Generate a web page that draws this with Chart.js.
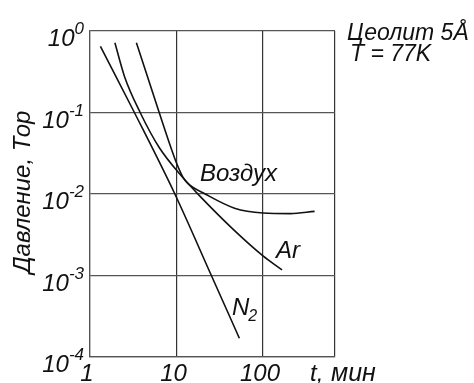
<!DOCTYPE html>
<html lang="ru">
<head>
<meta charset="utf-8">
<title>Цеолит 5Å, T = 77K</title>
<script src="https://cdn.jsdelivr.net/npm/chart.js@4.4.1/dist/chart.umd.min.js"></script>
<style>
  html, body { margin: 0; padding: 0; background: #fff; }
  canvas { display: block; }
</style>
</head>
<body>
<canvas id="chart" width="474" height="383"></canvas>
<script>
"use strict";

// time, min (log axis)
const xTicks = [1, 10, 100];
const xMax = 680;
// pressure, Torr (log axis)
const yTicks = [1, 0.1, 0.01, 0.001, 0.0001];

const n2Time = [1.32, 3.26, 9.57, 25.3, 53.3];
const n2Pressure = [0.648, 0.1, 0.01, 0.001, 0.00017];

const arTime = [1.94, 2.51, 3.8, 6.31, 11.9, 18.4, 46.9, 100, 166];
const arPressure = [0.716, 0.275, 0.1, 0.0372, 0.0158, 0.00955, 0.00355, 0.00174, 0.00117];

const airTime = [3.44, 6.31, 8.81, 10, 11.9, 13.5, 21.5, 46.9, 100, 207, 395];
const airPressure = [0.716, 0.1, 0.0347, 0.024, 0.016, 0.0135, 0.01, 0.0067, 0.00585, 0.00575, 0.00612];

// curve labels, anchored in data coordinates (left / baseline)
const curveLabels = [
  { text: "Воздух", t: 18.7, p: 0.01445 },
  { text: "Ar", t: 141, p: 0.00164 },
  { text: "N", sub: "2", t: 43.8, p: 0.000327 },
];

const FONT = '"Liberation Sans", Arial, sans-serif';

function toPoints(xs, ys) {
  return xs.map((x, i) => ({ x: x, y: ys[i] }));
}

function curve(xs, ys) {
  return {
    data: toPoints(xs, ys),
    borderColor: "#111",
    borderWidth: 1.6,
    pointRadius: 0,
    cubicInterpolationMode: "monotone",
    fill: false,
  };
}

const textPlugin = {
  id: "texts",
  afterDraw(chart) {
    const ctx = chart.ctx;
    const xs = chart.scales.x;
    const ys = chart.scales.y;
    ctx.save();
    ctx.fillStyle = "#111";
    ctx.textBaseline = "alphabetic";

    // y tick labels 10^n
    yTicks.forEach((v) => {
      const py = ys.getPixelForValue(v);
      const exp = String(Math.round(Math.log10(v)));
      ctx.font = "italic 17px " + FONT;
      const expW = ctx.measureText(exp).width;
      ctx.textAlign = "left";
      ctx.fillText(exp, 84 - expW, py + 3);
      ctx.font = "italic 24px " + FONT;
      ctx.textAlign = "right";
      ctx.fillText("10", 84 - expW, py + 15);
    });

    // x tick labels
    ctx.font = "italic 24px " + FONT;
    ctx.textAlign = "center";
    xTicks.forEach((v) => {
      ctx.fillText(String(v), xs.getPixelForValue(v) - 3, 381);
    });
    ctx.textAlign = "left";
    ctx.fillText("t,", 310, 381);
    ctx.font = "italic 25px " + FONT;
    ctx.fillText("мин", 331, 381);

    // y axis title
    ctx.font = "italic 24px " + FONT;
    ctx.save();
    ctx.translate(30, 192);
    ctx.rotate(-Math.PI / 2);
    ctx.textAlign = "center";
    ctx.fillText("Давление, Тор", 0, 0);
    ctx.restore();

    // header
    ctx.font = "italic 23px " + FONT;
    ctx.textAlign = "left";
    ctx.fillText("Цеолит 5Å", 347, 40);
    ctx.fillText("T = 77K", 350, 61);

    // curve labels
    curveLabels.forEach((l) => {
      const px = xs.getPixelForValue(l.t);
      const py = ys.getPixelForValue(l.p);
      ctx.font = "italic 24px " + FONT;
      ctx.fillText(l.text, px, py);
      if (l.sub) {
        const w = ctx.measureText(l.text).width;
        ctx.font = "italic 16px " + FONT;
        ctx.fillText(l.sub, px + w - 1, py + 6);
      }
    });
    ctx.restore();
  },
};

const chart = new Chart(document.getElementById("chart"), {
  type: "line",
  data: {
    datasets: [
      curve(n2Time, n2Pressure),
      curve(arTime, arPressure),
      curve(airTime, airPressure),
    ],
  },
  options: {
    responsive: false,
    animation: false,
    layout: { padding: { left: 90, right: 139, top: 31, bottom: 26 } },
    plugins: { legend: { display: false }, tooltip: { enabled: false } },
    scales: {
      x: {
        type: "logarithmic",
        min: 1,
        max: xMax,
        afterBuildTicks(scale) {
          scale.ticks = xTicks.concat([xMax]).map((v) => ({ value: v }));
        },
        ticks: { display: false },
        grid: { color: "#333", lineWidth: 1.2, drawTicks: false },
        border: { color: "#555", width: 1.2 },
      },
      y: {
        type: "logarithmic",
        min: 0.0001,
        max: 1,
        afterBuildTicks(scale) {
          scale.ticks = yTicks.map((v) => ({ value: v }));
        },
        ticks: { display: false },
        grid: { color: "#555", lineWidth: 1.2, drawTicks: false },
        border: { color: "#555", width: 1.2 },
      },
    },
  },
  plugins: [textPlugin],
});
</script>
</body>
</html>
